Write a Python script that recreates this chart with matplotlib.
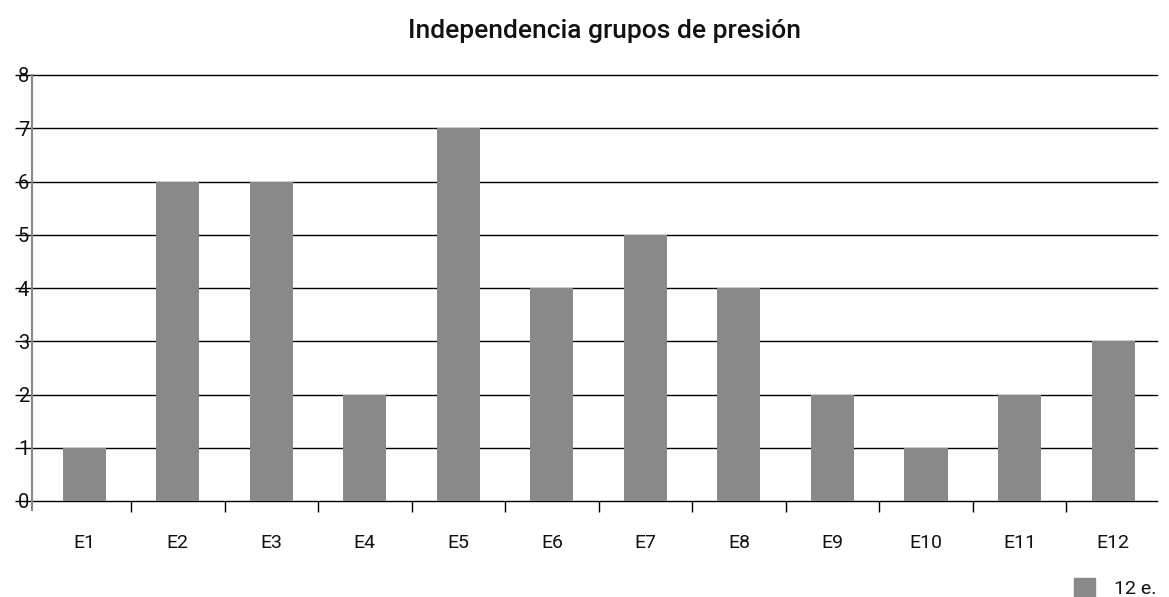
import numpy as np
import matplotlib
matplotlib.use('Agg')
import matplotlib.pyplot as plt
import matplotlib.patches as mpatches

categories = ['E1', 'E2', 'E3', 'E4', 'E5', 'E6', 'E7', 'E8', 'E9', 'E10', 'E11', 'E12']
values = [1, 6, 6, 2, 7, 4, 5, 4, 2, 1, 2, 3]
yticks = [0, 1, 2, 3, 4, 5, 6, 7, 8]
series_name = '12 e.'
title = 'Independencia grupos de presión'

bar_color = '#898989'

plt.rcParams['font.family'] = ['Roboto', 'DejaVu Sans']

W, H = 1169, 597
fig = plt.figure(figsize=(W / 100, H / 100), dpi=100)
ax = fig.add_axes([32 / W, 96 / H, (1157 - 32) / W, (501 - 75) / H])

x = np.arange(len(categories))
ax.bar(x, values, width=0.46, color=bar_color, zorder=2)

ax.set_xlim(-0.559, len(categories) - 0.53)
ax.set_ylim(0, 8)

# horizontal grid lines
for y in yticks:
    ax.axhline(y, color='black', lw=1, zorder=1, clip_on=False)

for s in ['top', 'right', 'bottom']:
    ax.spines[s].set_visible(False)
ax.spines['left'].set_color('#888888')
ax.spines['left'].set_linewidth(1.5)
ax.spines['left'].set_bounds(-0.17, 8)

ax.set_yticks(yticks)
ax.set_yticklabels([str(v) for v in yticks], fontsize=14.5, color='#111111')
ax.tick_params(axis='y', length=12, width=1, color='black', pad=-10)

ax.set_xticks(x)
ax.set_xticklabels(categories, fontsize=14, color='#111111')
ax.set_xticks(np.arange(len(categories) - 1) + 0.5, minor=True)
ax.tick_params(axis='x', which='major', length=0, pad=24)
ax.tick_params(axis='x', which='minor', length=8, width=1, color='black')

fig.text(604 / W, 1 - 31 / H, title, ha='center', va='center',
         fontsize=19, fontweight='medium', color='#111111')

handle = mpatches.Patch(color=bar_color, label=series_name)
fig.legend(handles=[handle], loc='center right', bbox_to_anchor=(1157 / W, 1 - 588 / H),
           frameon=False, handlelength=1.1, handleheight=1.1, handletextpad=1.0,
           borderpad=0, borderaxespad=0, prop={'size': 14})
for t in fig.legends[0].get_texts():
    t.set_color('#111111')

fig.savefig('out.png', dpi=100)
